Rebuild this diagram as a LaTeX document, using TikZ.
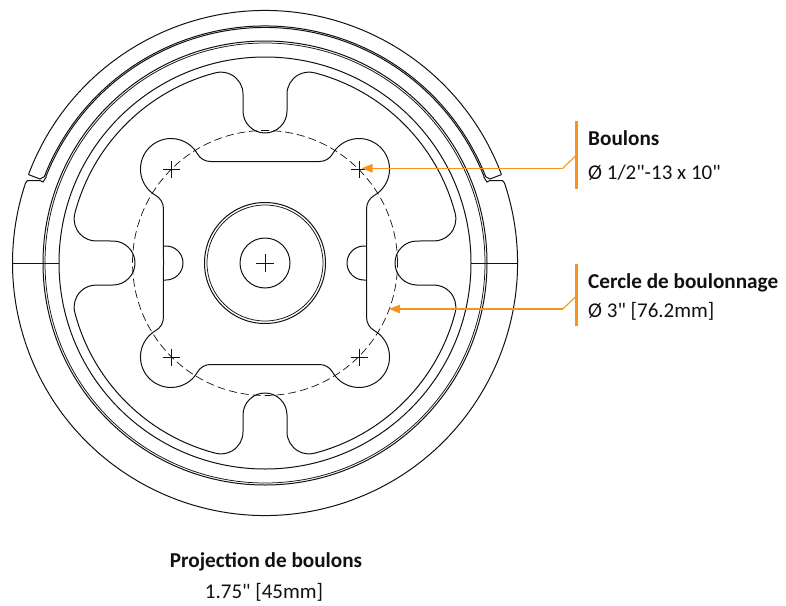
\documentclass[tikz,border=0pt]{standalone}
\usepackage{fontspec}
\newfontfamily\labelfont{Carlito}
\usetikzlibrary{arrows.meta}
\definecolor{lead}{HTML}{F7941D}
\definecolor{ink}{HTML}{111111}
\tikzset{
  part/.style={draw=ink,line width=1pt},
  fine/.style={draw=ink,line width=0.75pt},
  boltdash/.style={draw=ink,line width=0.7pt,dash pattern=on 8pt off 4pt},
  leader/.style={draw=lead,line width=1.1pt},
  bar/.style={draw=lead,line width=2.6pt},
  pointer/.style={leader,-{Triangle[length=11pt,width=8.5pt]}},
  title/.style={font=\labelfont\fontsize{21.2}{24}\selectfont\bfseries,text=ink,anchor=base west,inner sep=0pt},
  value/.style={font=\labelfont\fontsize{21}{24}\selectfont,text=ink,anchor=base west,inner sep=0pt},
  captitle/.style={font=\labelfont\fontsize{21.2}{24}\selectfont\bfseries,text=ink,anchor=base,inner sep=0pt},
  capvalue/.style={font=\labelfont\fontsize{21}{24}\selectfont,text=ink,anchor=base,inner sep=0pt},
}
\begin{document}
\begin{tikzpicture}[x=1pt,y=1pt]
\useasboundingbox (0,0) rectangle (786,-605);
\begin{scope}[shift={(265,-263)}]
  % outer body, interrupted by the notches
  \draw[part] (159.5:252.5) arc[start angle=159.5,end angle=20.5,radius=252.5];
  \draw[part] (18.5:252.5) arc[start angle=18.5,end angle=-198.5,radius=252.5];
  % notch edges and the groove lip
  \foreach \s in {1,-1}{
    \begin{scope}[xscale=\s]
      \draw[part] (159.5:252.5) -- (-225,84) -- (158.5:236.5);
      \draw[part] (161.5:252.5) -- (-237.5,82.5) -- (-225,82.5) -- (-222,81) -- (158.5:235);
    \end{scope}
  }
  \draw[part] (158.5:237) arc[start angle=158.5,end angle=21.5,radius=237];
  \draw[part] (158.5:235.5) arc[start angle=158.5,end angle=21.5,radius=235.5];
  \draw[part] (0,0) circle[radius=222];
  \draw[fine] (0,0) circle[radius=220];
  \draw[part] (0,0) circle[radius=206];
  % parting lines
  \draw[fine] (-252.5,0) -- (-206,0);
  \draw[fine] (206,0) -- (252.5,0);
  % hub
  \draw[part] (0,0) circle[radius=60.5];
  \draw[fine] (0,0) circle[radius=58];
  \draw[part] (0,0) circle[radius=25];
  \draw[fine] (-9,0) -- (9,0) (0,-9) -- (0,9);
  % bolt circle
  \draw[boltdash] (0,0) circle[radius=132.5];
  % mirrored quarters of the plate and of the window
  \foreach \a/\b in {1/1,-1/1,1/-1,-1/-1}{
    \begin{scope}[xscale=\a,yscale=\b]
      \draw[part] (0,130) arc[start angle=270,end angle=180,radius=22]
        -- (-22,168.9) arc[start angle=0,end angle=104.6,radius=22]
        arc[start angle=104.6,end angle=165.4,radius=196.5]
        arc[start angle=165.4,end angle=270,radius=22]
        -- (-152,22) arc[start angle=90,end angle=0,radius=22];
      \draw[part] (0,101.5) -- (-54.5,101.5)
        arc[start angle=270,end angle=209.7,radius=15]
        arc[start angle=29.7,end angle=240.3,radius=30.5]
        arc[start angle=60.3,end angle=0,radius=15]
        -- (-101.5,0);
      \draw[fine] (-102.5,94) -- (-85.5,94) (-94,85.5) -- (-94,102.5);
    \end{scope}
  }
  % side bumps
  \foreach \a in {1,-1}{
    \begin{scope}[xscale=\a]
      \draw[part] (-101.5,17) -- (-99,17) arc[start angle=90,end angle=-90,radius=17] -- (-101.5,-17);
    \end{scope}
  }
\end{scope}
% call-outs
\coordinate (boltTip) at (361.5,-168.3);
\coordinate (boltElbow) at (562.7,-168.3);
\coordinate (boltBar) at (576.5,-155);
\coordinate (ringTip) at (389,-309);
\coordinate (ringElbow) at (562.7,-309);
\coordinate (ringBar) at (576.5,-296);
\draw[pointer] (boltElbow) -- (boltTip);
\draw[leader] (boltElbow) -- (boltBar);
\draw[bar] (576.5,-121) -- (576.5,-188.5);
\draw[pointer] (ringElbow) -- (ringTip);
\draw[leader] (ringElbow) -- (ringBar);
\draw[bar] (576.5,-263.5) -- (576.5,-325.5);
% texts
\node[title] (t1) at (588,-145.5) {Boulons};
\node[value] (v1) at (588,-179) {Ø 1/2"-13 x 10"};
\node[title] (t2) at (588,-288.5) {Cercle de boulonnage};
\node[value] (v2) at (588,-317.5) {Ø 3" [76.2mm]};
\node[captitle] (t3) at (266,-567) {Projection de boulons};
\node[capvalue] (v3) at (264,-598.5) {1.75" [45mm]};
\end{tikzpicture}
\end{document}
